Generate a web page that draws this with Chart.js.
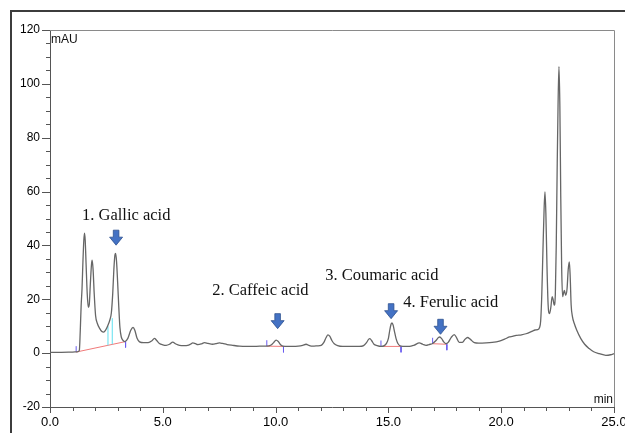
<!DOCTYPE html>
<html>
<head>
<meta charset="utf-8">
<script src="https://cdn.jsdelivr.net/npm/chart.js@4.4.0/dist/chart.umd.min.js"></script>
<style>
  html, body { margin: 0; padding: 0; background: #fff; }
  #wrap { width: 625px; height: 433px; }
</style>
</head>
<body>
<div id="wrap"><canvas id="chrom"></canvas></div>
<script>
// retention time (min) and absorbance (mAU)
const times = [
  0.00, 0.50, 1.00, 1.20, 1.30, 1.34, 1.38, 1.42, 1.46, 1.50, 1.53, 1.56, 1.60, 1.65, 1.70, 1.74,
  1.79, 1.84, 1.87, 1.91, 1.96, 2.02, 2.10, 2.20, 2.30, 2.38, 2.46, 2.56, 2.66, 2.72, 2.78, 2.83,
  2.88, 2.91, 2.95, 3.00, 3.05, 3.10, 3.16, 3.25, 3.32, 3.45, 3.58, 3.68, 3.76, 3.86, 3.97, 4.15,
  4.35, 4.52, 4.63, 4.72, 4.85, 5.00, 5.15, 5.30, 5.44, 5.58, 5.74, 5.95, 6.10, 6.22, 6.33, 6.45,
  6.55, 6.70, 6.85, 7.00, 7.21, 7.35, 7.51, 7.65, 7.85, 8.10, 8.40, 8.70, 8.99, 9.30, 9.60, 9.80,
  9.92, 10.02, 10.12, 10.22, 10.32, 10.55, 10.76, 11.00, 11.20, 11.35, 11.50, 11.64, 11.85, 12.02,
  12.14, 12.24, 12.32, 12.40, 12.50, 12.60, 12.75, 12.97, 13.30, 13.71, 13.90, 14.03, 14.13, 14.18,
  14.26, 14.36, 14.50, 14.67, 14.82, 14.92, 15.00, 15.06, 15.12, 15.16, 15.21, 15.27, 15.34, 15.42,
  15.56, 15.75, 15.93, 16.15, 16.37, 16.52, 16.67, 16.80, 16.96, 17.10, 17.22, 17.28, 17.36, 17.46,
  17.55, 17.65, 17.78, 17.92, 18.03, 18.14, 18.28, 18.40, 18.51, 18.62, 18.81, 19.00, 19.33, 19.60,
  19.92, 20.15, 20.36, 20.50, 20.66, 20.90, 21.10, 21.39, 21.50, 21.61, 21.70, 21.75, 21.80, 21.85,
  21.90, 21.94, 21.98, 22.03, 22.08, 22.14, 22.20, 22.26, 22.30, 22.35, 22.40, 22.44, 22.48, 22.52,
  22.56, 22.60, 22.64, 22.68, 22.72, 22.77, 22.80, 22.86, 22.92, 22.97, 23.02, 23.06, 23.10, 23.16,
  23.24, 23.35, 23.53, 23.70, 23.90, 24.10, 24.35, 24.64, 24.85, 25.00
];
const signal = [
  0.3, 0.3, 0.4, 0.5, 1.0, 8, 17.5, 24, 34, 42, 44.6, 42, 33, 22, 17, 18,
  26, 33, 34.5, 31, 22, 14, 11, 9.2, 8.0, 7.8, 8.5, 10.2, 12.5, 15, 22, 31,
  36.5, 37, 34, 26, 17, 9.5, 6.0, 4.6, 4.3, 5.5, 8.5, 9.6, 8.5, 5.5, 4.2, 3.9,
  3.9, 4.6, 5.5, 4.8, 3.6, 3.1, 2.9, 3.3, 4.1, 3.4, 2.9, 2.8, 2.9, 3.3, 3.8, 3.5,
  3.2, 3.4, 3.9, 3.6, 3.3, 3.5, 3.8, 3.6, 3.2, 2.9, 2.6, 2.5, 2.5, 2.6, 2.6, 3.0,
  4.0, 4.8, 4.3, 3.1, 2.6, 2.5, 2.5, 2.6, 2.9, 3.3, 2.8, 2.6, 2.7, 2.9,
  4.0, 5.8, 6.8, 6.3, 4.6, 3.5, 2.8, 2.5, 2.5, 2.5, 2.8, 3.9, 5.2, 5.4,
  4.6, 3.3, 2.8, 2.5, 2.8, 3.7, 5.5, 8.5, 10.8, 11.2, 10.4, 8.0, 5.4, 3.6,
  2.6, 2.5, 2.5, 3.0, 3.8, 3.3, 2.9, 3.2, 3.6, 4.6, 5.8, 6.0, 5.4, 4.1,
  3.5, 4.0, 5.8, 6.9, 5.6, 4.0, 4.0, 5.2, 5.8, 5.2, 3.9, 3.7, 3.8, 4.0,
  4.5, 5.2, 6.0, 6.2, 6.6, 6.8, 7.2, 8.2, 8.6, 8.7, 9.5, 12, 22, 38,
  53, 59.9, 52, 32, 18, 14.7, 17, 21, 20, 17.8, 22, 40, 68, 92,
  106.4, 92, 58, 32, 21, 22.5, 23.3, 21.5, 24, 31, 33.9, 28, 18, 13.5,
  11, 8.5, 5.4, 3.3, 1.7, 0.5, -0.2, -0.8, -0.6, -0.2
];

// integration baselines (start / end of each marked peak)
const baseStartT = [1.16, 9.61, 14.67, 16.96];
const baseStartV = [0.4, 2.6, 2.5, 3.5];
const baseEndT = [3.35, 10.35, 15.56, 17.59];
const baseEndV = [4.3, 2.5, 2.5, 3.3];

// cyan drop lines inside the gallic acid group
const dropT = [2.57, 2.76];
const dropLow = [2.9, 3.3];
const dropHigh = [10.0, 13.0];

// peak names and where they sit
const peakNames = ["1. Gallic acid", "2. Caffeic acid", "3. Coumaric acid", "4. Ferulic acid"];
const nameT = [1.42, 7.19, 12.2, 15.66];
const nameV = [49.6, 21.5, 27.1, 17.1];
const arrowT = [2.93, 10.09, 15.12, 17.31];
const arrowV = [40.1, 9.1, 12.8, 7.0];

const xTickLabels = ["0.0", "5.0", "10.0", "15.0", "20.0", "25.0"];
const yTickLabels = ["-20", "0", "20", "40", "60", "80", "100", "120"];

const trace = times.map((t, i) => ({ x: t, y: signal[i] }));

const baselines = [];
const marks = [];
baseStartT.forEach((t, i) => {
  baselines.push({ x: t, y: baseStartV[i] }, { x: baseEndT[i], y: baseEndV[i] }, { x: baseEndT[i], y: null });
  marks.push({ x: t, y: baseStartV[i] }, { x: t, y: baseStartV[i] + 2.2 }, { x: t, y: null });
  marks.push({ x: baseEndT[i], y: baseEndV[i] }, { x: baseEndT[i], y: baseEndV[i] - 2.2 }, { x: baseEndT[i], y: null });
});
const drops = [];
dropT.forEach((t, i) => {
  drops.push({ x: t, y: dropLow[i] }, { x: t, y: dropHigh[i] }, { x: t, y: null });
});

function drawArrow(ctx, x, tip) {
  // small block arrow pointing down
  ctx.beginPath();
  ctx.moveTo(x - 2.8, tip - 15);
  ctx.lineTo(x + 2.8, tip - 15);
  ctx.lineTo(x + 2.8, tip - 8);
  ctx.lineTo(x + 6.5, tip - 8);
  ctx.lineTo(x, tip);
  ctx.lineTo(x - 6.5, tip - 8);
  ctx.lineTo(x - 2.8, tip - 8);
  ctx.closePath();
  ctx.fillStyle = "#4472c4";
  ctx.fill();
  ctx.strokeStyle = "#2f528f";
  ctx.lineWidth = 0.8;
  ctx.stroke();
}

const extras = {
  id: "extras",
  beforeDraw(chart) {
    const ctx = chart.ctx;
    ctx.save();
    ctx.fillStyle = "#fff";
    ctx.fillRect(0, 0, chart.width, chart.height);
    // outer frame
    ctx.strokeStyle = "#3c3c3c";
    ctx.lineWidth = 2;
    ctx.beginPath();
    ctx.moveTo(11, chart.height + 5);
    ctx.lineTo(11, 11);
    ctx.lineTo(chart.width + 5, 11);
    ctx.stroke();
    ctx.restore();
  },
  afterDraw(chart) {
    const ctx = chart.ctx;
    const a = chart.chartArea;
    const xs = chart.scales.x, ys = chart.scales.y;
    ctx.save();
    // top and right edges of plot box
    ctx.strokeStyle = "#8a8a8a";
    ctx.lineWidth = 1;
    ctx.beginPath();
    ctx.moveTo(a.left, a.top + 0.5);
    ctx.lineTo(a.right + 0.5, a.top + 0.5);
    ctx.lineTo(a.right + 0.5, a.bottom);
    ctx.stroke();

    // tick marks
    ctx.strokeStyle = "#555";
    ctx.beginPath();
    xs.ticks.forEach(t => {
      const px = Math.round(xs.getPixelForValue(t.value)) + 0.5;
      const len = t.value % 5 === 0 ? 6 : 4;
      ctx.moveTo(px, a.bottom);
      ctx.lineTo(px, a.bottom + len);
    });
    ys.ticks.forEach(t => {
      const py = Math.round(ys.getPixelForValue(t.value)) + 0.5;
      const len = t.value % 20 === 0 ? 8 : 4;
      ctx.moveTo(a.left, py);
      ctx.lineTo(a.left - len, py);
    });
    ctx.stroke();

    // unit labels
    ctx.fillStyle = "#111";
    ctx.font = "12px 'Liberation Sans', Arial, sans-serif";
    ctx.textAlign = "left";
    ctx.textBaseline = "top";
    ctx.fillText("mAU", a.left + 1, a.top + 4);
    ctx.textAlign = "right";
    ctx.textBaseline = "bottom";
    ctx.fillText("min", a.right - 1, a.bottom - 1);

    // peak names and arrows
    ctx.font = "16.5px 'Liberation Serif', 'Times New Roman', serif";
    ctx.textAlign = "left";
    ctx.textBaseline = "alphabetic";
    ctx.fillStyle = "#111";
    peakNames.forEach((n, i) => {
      ctx.fillText(n, xs.getPixelForValue(nameT[i]), ys.getPixelForValue(nameV[i]));
    });
    arrowT.forEach((t, i) => {
      drawArrow(ctx, xs.getPixelForValue(t), ys.getPixelForValue(arrowV[i]));
    });
    ctx.restore();
  }
};

new Chart(document.getElementById("chrom"), {
  type: "line",
  data: {
    datasets: [
      { data: trace, borderColor: "#666", borderWidth: 1.3, pointRadius: 0, cubicInterpolationMode: "monotone" },
      { data: marks, borderColor: "#6a5cf0", borderWidth: 1, pointRadius: 0, spanGaps: false },
      { data: drops, borderColor: "#5fe0f0", borderWidth: 1, pointRadius: 0, spanGaps: false },
      { data: baselines, borderColor: "#f07a7a", borderWidth: 1, pointRadius: 0, spanGaps: false }
    ]
  },
  options: {
    responsive: true,
    maintainAspectRatio: false,
    animation: false,
    events: [],
    layout: { padding: { left: 10, top: 30, right: 11, bottom: 6 } },
    plugins: { legend: { display: false }, tooltip: { enabled: false } },
    scales: {
      x: {
        type: "linear",
        min: 0,
        max: 25,
        grid: { display: false, drawTicks: false },
        border: { display: true, color: "#555", width: 1 },
        ticks: {
          stepSize: 1,
          autoSkip: false,
          maxRotation: 0,
          padding: 8,
          color: "#000",
          font: { family: "'Liberation Sans', Arial, sans-serif", size: 13 },
          callback: v => xTickLabels[xTickLabels.indexOf((+v).toFixed(1))] || ""
        },
        afterFit: s => { s.height = 20; s.paddingLeft = 0; s.paddingRight = 0; }
      },
      y: {
        min: -20,
        max: 120,
        grid: { display: false, drawTicks: false },
        border: { display: true, color: "#555", width: 1 },
        ticks: {
          stepSize: 5,
          autoSkip: false,
          padding: 10,
          color: "#000",
          font: { family: "'Liberation Sans', Arial, sans-serif", size: 12 },
          callback: v => yTickLabels.includes(String(v)) ? String(v) : ""
        },
        afterFit: s => { s.width = 40; }
      }
    }
  },
  plugins: [extras]
});
</script>
</body>
</html>
